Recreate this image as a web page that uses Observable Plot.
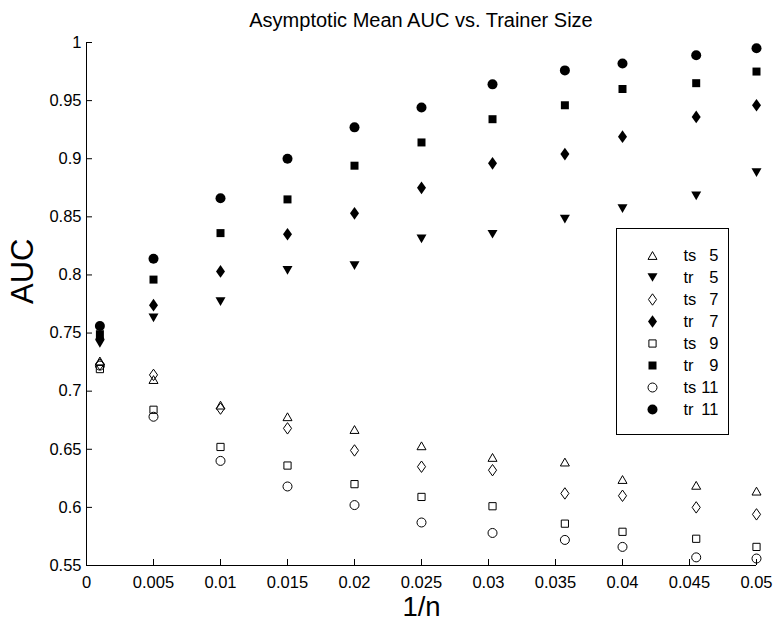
<!DOCTYPE html>
<html><head><meta charset="utf-8">
<script src="https://cdn.jsdelivr.net/npm/d3@7"></script>
<script src="https://cdn.jsdelivr.net/npm/@observablehq/plot@0.6"></script>
<style>
html,body{margin:0;padding:0;background:#fff;overflow:hidden;}
#wrap{position:relative;width:773px;height:622px;font-family:"Liberation Sans",Arial,Helvetica,sans-serif;}
#chart{position:absolute;left:0;top:0;}
#title{position:absolute;top:10px;left:421px;transform:translateX(-50%);font-size:20px;line-height:20px;white-space:nowrap;color:#000;}
#legend{position:absolute;left:616px;top:228px;}
</style></head>
<body>
<div id="wrap"><div id="chart"></div><div id="title">Asymptotic Mean AUC vs. Trainer Size</div><div id="legend"></div></div>
<script>
// ---- data ----
const titleText = "Asymptotic Mean AUC vs. Trainer Size";
const xLabel = "1/n";
const yLabel = "AUC";
const xValues = [0.001, 0.005, 0.01, 0.015, 0.02, 0.025, 0.0303, 0.0357, 0.04, 0.0455, 0.05];
const ts5  = [0.726, 0.710, 0.688, 0.678, 0.667, 0.653, 0.643, 0.639, 0.624, 0.619, 0.614];
const tr5  = [0.741, 0.763, 0.777, 0.804, 0.808, 0.831, 0.835, 0.848, 0.857, 0.868, 0.888];
const ts7  = [0.723, 0.714, 0.685, 0.668, 0.649, 0.635, 0.632, 0.612, 0.610, 0.600, 0.594];
const tr7  = [0.745, 0.774, 0.803, 0.835, 0.853, 0.875, 0.896, 0.904, 0.919, 0.936, 0.946];
const ts9  = [0.719, 0.684, 0.652, 0.636, 0.620, 0.609, 0.601, 0.586, 0.579, 0.573, 0.566];
const tr9  = [0.749, 0.796, 0.836, 0.865, 0.894, 0.914, 0.934, 0.946, 0.960, 0.965, 0.975];
const ts11 = [0.722, 0.678, 0.640, 0.618, 0.602, 0.587, 0.578, 0.572, 0.566, 0.557, 0.556];
const tr11 = [0.756, 0.814, 0.866, 0.900, 0.927, 0.944, 0.964, 0.976, 0.982, 0.989, 0.995];
const seriesNames = ["ts 5", "tr 5", "ts 7", "tr 7", "ts 9", "tr 9", "ts 11", "tr 11"];
const legendKinds = ["ts", "tr", "ts", "tr", "ts", "tr", "ts", "tr"];
const legendSizes = ["5", "5", "7", "7", "9", "9", "11", "11"];
const seriesValues = [ts5, tr5, ts7, tr7, ts9, tr9, ts11, tr11];
const xTicks = [0, 0.005, 0.01, 0.015, 0.02, 0.025, 0.03, 0.035, 0.04, 0.045, 0.05];
const yTicks = [0.55, 0.6, 0.65, 0.7, 0.75, 0.8, 0.85, 0.9, 0.95, 1];
const xDomain = [0, 0.05];
const yDomain = [0.55, 1];

// ---- symbols (MATLAB-like markers) ----
const rOf = s => Math.sqrt(s / Math.PI);
const sym = {
  circle: {draw(c, s) { const r = rOf(s); c.moveTo(r, 0); c.arc(0, 0, r, 0, 2 * Math.PI); c.closePath(); }},
  square: {draw(c, s) { const h = 0.8 * rOf(s); c.moveTo(-h, -h); c.lineTo(h, -h); c.lineTo(h, h); c.lineTo(-h, h); c.closePath(); }},
  diamond: {draw(c, s) { const r = rOf(s), w = 0.9 * r, h = 1.27 * r; c.moveTo(0, -h); c.lineTo(w, 0); c.lineTo(0, h); c.lineTo(-w, 0); c.closePath(); }},
  triUp: {draw(c, s) { const r = rOf(s), h = 0.87 * r; c.moveTo(0, -h); c.lineTo(r, h); c.lineTo(-r, h); c.closePath(); }},
  triDown: {draw(c, s) { const r = rOf(s), h = 0.87 * r; c.moveTo(-r, -h); c.lineTo(r, -h); c.lineTo(0, h); c.closePath(); }}
};
const seriesSymbol = [sym.triUp, sym.triDown, sym.diamond, sym.diamond, sym.square, sym.square, sym.circle, sym.circle];
const styleFor = i => legendKinds[i] === "tr"
  ? {fill: "black", stroke: "none", r: 5}
  : {fill: "none", stroke: "black", strokeWidth: 1, r: 4.5};

const rows = seriesNames.map((name, i) => xValues.map((x, j) => ({series: name, x, y: seriesValues[i][j]})));

const fmt = d3.format("~g");
const font = '"Liberation Sans", Arial, Helvetica, sans-serif';
const W = 773, H = 622, mL = 86, mR = 17, mT = 42, mB = 57;
const plotW = W - mL - mR, plotH = H - mT - mB;

const chart = Plot.plot({
  width: W, height: H,
  marginLeft: mL, marginRight: mR, marginTop: mT, marginBottom: mB,
  style: {fontFamily: font, fontSize: "16.5px", color: "#000", background: "transparent", overflow: "visible"},
  x: {domain: xDomain, label: null},
  y: {domain: yDomain, label: null},
  marks: [
    Plot.axisX({ticks: xTicks, tickFormat: fmt, tickSize: 0, tickPadding: 11, label: null, fontSize: 16.5}),
    Plot.axisY({ticks: yTicks, tickFormat: fmt, tickSize: 0, tickPadding: 5, label: null, fontSize: 16.5}),
    Plot.ruleX(xTicks, {x: d => d, insetTop: plotH - 6, stroke: "black"}),
    Plot.ruleY(yTicks, {y: d => d, insetRight: plotW - 6, stroke: "black"}),
    Plot.ruleX([xDomain[0]], {stroke: "black"}),
    Plot.ruleY([yDomain[0]], {stroke: "black"}),
    ...rows.map((data, i) => Plot.dot(data, {x: "x", y: "y", symbol: seriesSymbol[i], ...styleFor(i)})),
    Plot.text([yLabel], {text: d => d, frameAnchor: "left", dx: -63, rotate: -90, fontSize: 31}),
    Plot.text([xLabel], {text: d => d, frameAnchor: "bottom", dy: 50, fontSize: 27.5})
  ]
});
document.getElementById("chart").append(chart);
document.getElementById("title").textContent = titleText;

const legend = Plot.plot({
  width: 113, height: 207,
  marginLeft: 0, marginRight: 1, marginTop: 0, marginBottom: 1,
  style: {fontFamily: font, fontSize: "16.5px", color: "#000", background: "transparent", overflow: "visible"},
  y: {type: "point", domain: seriesNames, range: [16, 192], axis: null},
  marks: [
    Plot.frame({fill: "white", stroke: "black"}),
    ...seriesNames.map((s, i) => Plot.dot([s], {y: d => d, frameAnchor: "left", dx: 36, symbol: seriesSymbol[i], ...styleFor(i)})),
    Plot.text(seriesNames, {y: d => d, text: (d, i) => legendKinds[i], frameAnchor: "left", dx: 67, textAnchor: "start", fontSize: 16.5}),
    Plot.text(seriesNames, {y: d => d, text: (d, i) => legendSizes[i], frameAnchor: "right", dx: -10, textAnchor: "end", fontSize: 16.5})
  ]
});
document.getElementById("legend").append(legend);
</script>
</body></html>
